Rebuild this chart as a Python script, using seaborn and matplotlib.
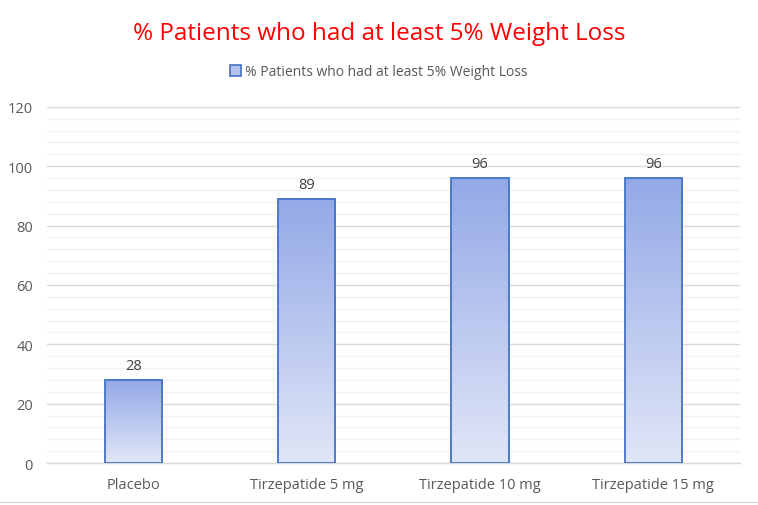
import matplotlib
matplotlib.use("Agg")
import matplotlib.pyplot as plt
from matplotlib.colors import LinearSegmentedColormap
from matplotlib.patches import Patch
from matplotlib.ticker import MultipleLocator
import numpy as np
import pandas as pd
import seaborn as sns

# Data
categories = ["Placebo", "Tirzepatide 5 mg", "Tirzepatide 10 mg", "Tirzepatide 15 mg"]
values = [28, 89, 96, 96]
series_name = "% Patients who had at least 5% Weight Loss"

sns.set_theme(style="white")
plt.rcParams['font.family'] = ['Open Sans', 'DejaVu Sans']

df = pd.DataFrame({"group": categories, "pct": values})

fig = plt.figure(figsize=(7.58, 5.06), dpi=100)
ax = fig.add_axes([0.062, 0.083, 0.914, 0.704])

sns.barplot(data=df, x="group", y="pct", ax=ax, width=0.33,
            color="#b4c3ee", edgecolor="#4472c4", linewidth=1.3, zorder=3)

ax.set_ylim(0, 120)
ax.set_xlim(-0.5, 3.5)
ax.yaxis.set_major_locator(MultipleLocator(20))
ax.yaxis.set_minor_locator(MultipleLocator(4))
ax.grid(axis="y", which="major", color="#d9d9d9", linewidth=1.0, zorder=0)
ax.grid(axis="y", which="minor", color="#f2f2f2", linewidth=1.0, zorder=0)
ax.set_axisbelow(True)

# gradient fill inside each bar
grad = LinearSegmentedColormap.from_list("g", ["#e1e6f7", "#93a9e7"])
col = np.linspace(0, 1, 256).reshape(-1, 1)
for p in ax.patches:
    x0, y0 = p.get_x(), p.get_y()
    w, h = p.get_width(), p.get_height()
    im = ax.imshow(col, cmap=grad, origin="lower", aspect="auto",
                   extent=[x0, x0 + w, y0, y0 + h], zorder=2.5)
    im.set_clip_path(p)
    p.set_facecolor("none")
    ax.text(x0 + w / 2, h + 2.2, f"{h:.0f}", ha="center", va="bottom",
            fontsize=10.5, color="#404040")

ax.set_xlim(-0.5, 3.5)
ax.set_ylim(0, 120)

for s in ["top", "right", "left"]:
    ax.spines[s].set_visible(False)
ax.spines["bottom"].set_color("#d9d9d9")
ax.spines["bottom"].set_linewidth(1.0)

ax.set_xlabel("")
ax.set_ylabel("")
ax.tick_params(axis="both", length=0, colors="#595959", labelsize=10.5)
ax.tick_params(axis="y", which="minor", length=0)
ax.tick_params(axis="x", pad=10)
ax.tick_params(axis="y", pad=10)

fig.suptitle(series_name, y=0.957, fontsize=17.5, color="#ff0000")

handle = Patch(facecolor="#b4c3ee", edgecolor="#4472c4", linewidth=1.2, label=series_name)
fig.legend(handles=[handle], loc="center", bbox_to_anchor=(0.5, 0.856), frameon=False,
           fontsize=10, labelcolor="#595959", handlelength=0.8, handleheight=0.8,
           handletextpad=0.3)

# faint chart border line at bottom
fig.add_artist(plt.Line2D([0, 1], [0.006, 0.006], transform=fig.transFigure,
                          color="#d9d9d9", linewidth=1.0))

fig.savefig("out.png", dpi=100)
